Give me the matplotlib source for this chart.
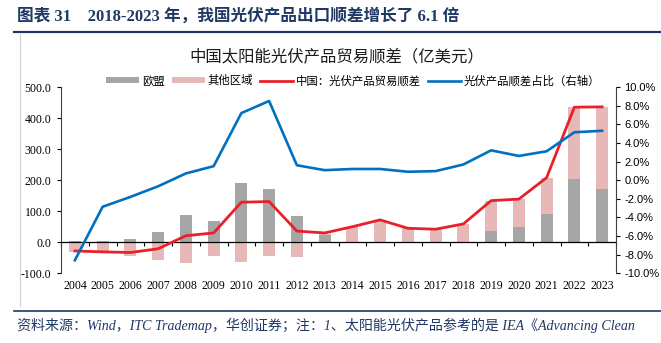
import numpy as np
import matplotlib
matplotlib.use("Agg")
import matplotlib.pyplot as plt
from matplotlib.lines import Line2D

plt.rcParams['font.family'] = ['Noto Sans CJK SC', 'DejaVu Sans']
plt.rcParams['axes.unicode_minus'] = False

# data
years = [str(y) for y in range(2004, 2024)]
eu = [3, 3, 10, 33, 87, 70, 190, 173, 83, 23, -2, -2, -2, -4, -2, 36, 49, 91, 203, 171]
other = [-31, -31, -44, -57, -68, -43, -62, -44, -46, 4, 50, 71, 45, 42, 59, 98, 90, 116, 232, 265]
china_total = [-28, -31, -33, -21, 21, 30, 129, 131, 36, 30, 50, 72, 45, 42, 59, 134, 139, 208, 435, 436]
share_pct = [-8.6, -2.86, -1.8, -0.66, 0.72, 1.5, 7.2, 8.5, 1.6, 1.07, 1.2, 1.2, 0.9, 0.97, 1.68,
             3.2, 2.6, 3.1, 5.14, 5.3]

heading = "图表 31    2018-2023 年，我国光伏产品出口顺差增长了 6.1 倍"
title = "中国太阳能光伏产品贸易顺差（亿美元）"
source = "资料来源：Wind，ITC Trademap，华创证券；注：1、太阳能光伏产品参考的是 IEA《Advancing Clean"

navy = '#1F3864'
c_gray = '#A6A6A6'
c_pink = '#E6B9B8'
c_red = '#E8202A'
c_blue = '#0070C0'

W, H = 661, 343
fig = plt.figure(figsize=(W / 100, H / 100), dpi=100)

# page decorations
fig.text(17 / W, 1 - 16 / H, heading, family=['Liberation Serif', 'Noto Sans CJK SC'],
         weight='bold', size=12, color=navy, va='center')
fig.add_artist(Line2D([14 / W, 1], [1 - 31.7 / H] * 2, color=navy, lw=1.6))
fig.add_artist(Line2D([20 / W, 20 / W], [1 - 34 / H, 1 - 306 / H], color='#D0D0D0', lw=0.8))
fig.add_artist(Line2D([14 / W, 1], [1 - 310.7 / H] * 2, color=navy, lw=1.2))
fig.text(17 / W, 1 - 325 / H, source, family=['Liberation Serif', 'Noto Sans CJK SC'],
         style='italic', size=10.1, color=navy, va='center')

ax = fig.add_axes([61 / W, 1 - 273.3 / H, 555 / W, (273.3 - 87) / H])
x = np.arange(len(years))
eu_a = np.array(eu, float)
oth_a = np.array(other, float)
bottom = np.where(oth_a >= 0, np.maximum(eu_a, 0), np.minimum(eu_a, 0))

bw = 0.44
b1 = ax.bar(x, eu_a, bw, color=c_gray, label='欧盟', zorder=2)
b2 = ax.bar(x, oth_a, bw, bottom=bottom, color=c_pink, label='其他区域', zorder=2)
l1, = ax.plot(x, china_total, color=c_red, lw=2, label='中国：光伏产品贸易顺差', zorder=4)

ax.set_xlim(-0.5, len(years) - 0.5)
ax.set_ylim(-100, 500)
ax.set_yticks(np.arange(-100, 501, 100))
ax.yaxis.set_major_formatter('{x:.1f}')
for s in ['top', 'right']:
    ax.spines[s].set_visible(False)
ax.spines['bottom'].set_position(('data', 0))
ax.spines['bottom'].set_linewidth(0.9)
ax.spines['left'].set_color('#404040')
ax.set_xticks(np.arange(-0.5, len(years), 1))
ax.tick_params(axis='x', length=3, width=0.8, direction='out', labelbottom=False)
ax.tick_params(axis='y', length=3, width=0.8, pad=4, labelsize=8.5)
for t in ax.get_yticklabels():
    t.set_family('Liberation Serif')

sec = ax.secondary_xaxis('bottom')
sec.set_xticks(x, years)
sec.tick_params(length=0, pad=5, labelsize=8.5)
sec.spines['bottom'].set_visible(False)
for t in sec.get_xticklabels():
    t.set_family('Liberation Serif')

ax2 = ax.twinx()
l2, = ax2.plot(x, share_pct, color=c_blue, lw=1.9, label='光伏产品顺差占比（右轴）', zorder=3)
ax2.set_ylim(-10, 10)
ax2.set_yticks(np.arange(-10, 11, 2))
ax2.yaxis.set_major_formatter('{x:.1f}%')
for s in ['top', 'left', 'bottom']:
    ax2.spines[s].set_visible(False)
ax2.spines['right'].set_color('#404040')
ax2.tick_params(axis='y', length=3, width=0.8, pad=3, labelsize=8)
for t in ax2.get_yticklabels():
    t.set_family('Liberation Sans')

fig.text(337 / W, 1 - 58 / H, title, size=11.8, ha='center', va='center', color='#1A1A1A')

fig.legend([b1, b2, l1, l2], [b1.get_label(), b2.get_label(), l1.get_label(), l2.get_label()],
           loc='center', bbox_to_anchor=(353 / W, 1 - 80.5 / H), ncol=4, frameon=False,
           fontsize=8.2, handlelength=2.9, handleheight=0.5, handletextpad=0.25,
           columnspacing=0.6, borderpad=0)

fig.savefig('out.png', dpi=100)
